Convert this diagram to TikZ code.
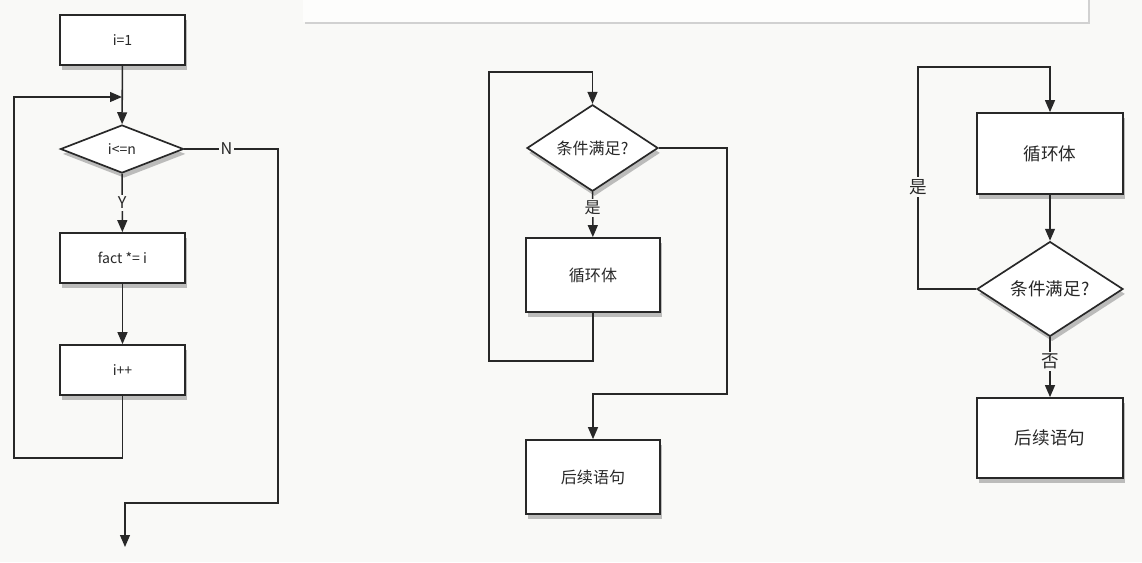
\documentclass[tikz,border=0pt]{standalone}
\usepackage{fontspec}
\setmainfont{Noto Sans CJK SC}
\usetikzlibrary{shapes.geometric,arrows.meta,shadows}
\definecolor{bg}{RGB}{249,249,247}
\definecolor{ink}{RGB}{40,40,40}
\tikzset{
  box/.style={draw=ink,line width=1.2pt,fill=white,text=ink,
    drop shadow={shadow xshift=1.5pt,shadow yshift=-3.5pt,opacity=0.5}},
  cond/.style={diamond,draw=ink,line width=1.2pt,fill=white,text=ink,inner sep=0pt,
    drop shadow={shadow xshift=1.5pt,shadow yshift=-3.5pt,opacity=0.5}},
  flow/.style={draw=ink,line width=1.1pt,-{Triangle[length=8.5pt,width=7pt]}},
  lbl/.style={fill=bg,text=ink,inner sep=1.5pt}
}
\begin{document}
\begin{tikzpicture}[x=0.025cm,y=-0.025cm]
  \useasboundingbox (0,0) rectangle (1142,562);
  \fill[bg] (0,0) rectangle (1142,562);
  \fill[black!18] (304.5,0) rectangle (1089.5,23.5);
  \fill[white!60!bg] (303,0) rectangle (1088,22);

  \node[box,minimum width=3.125cm,minimum height=1.25cm,font=\fontsize{10}{11}\selectfont] (init) at (122.5,40) {i=1};
  \node[cond,minimum width=3.075cm,minimum height=1.2cm,font=\fontsize{10}{11}\selectfont] (test) at (122,149) {i<=n};
  \node[box,minimum width=3.125cm,minimum height=1.25cm,font=\fontsize{10}{11}\selectfont] (fact) at (122.5,258) {fact *= i};
  \node[box,minimum width=3.125cm,minimum height=1.25cm,font=\fontsize{10}{11}\selectfont] (inc) at (122.5,370) {i++};
  \coordinate (merge) at (122,97);
  \coordinate (loopL) at (14,458);
  \coordinate (exitR) at (278,503);
  \coordinate (endL) at (125,547);
  \draw[flow] (init) -- (test);
  \draw[flow] (test) -- node[lbl,font=\fontsize{11.5}{12}\selectfont]{Y} (fact);
  \draw[flow] (fact) -- (inc);
  \draw[flow] (inc.south) |- (loopL) |- (merge);
  \draw[flow] (test.east) -- node[lbl,pos=0.45,font=\fontsize{11.5}{12}\selectfont]{N} (exitR |- test.east) -- (exitR) -| (endL);

  \node[cond,minimum width=3.275cm,minimum height=1.825cm,font=\fontsize{11.4}{12}\selectfont] (cond2) at (592.5,148) {条件满足?};
  \node[box,minimum width=3.35cm,minimum height=1.85cm,font=\fontsize{11.4}{12}\selectfont] (body2) at (593,275) {循环体};
  \node[box,minimum width=3.35cm,minimum height=1.85cm,font=\fontsize{11.4}{12}\selectfont] (next2) at (593,477) {后续语句};
  \coordinate (top2) at (489,72);
  \coordinate (bot2) at (489,361);
  \coordinate (right2) at (727,394);
  \draw[flow] (cond2) -- node[lbl,pos=0.35,font=\fontsize{11.4}{12}\selectfont]{是} (body2);
  \draw[flow] (body2.south) |- (bot2) -- (top2) -| (cond2.north);
  \draw[flow] (cond2.east) -| (right2) -| (next2.north);

  \node[box,minimum width=3.65cm,minimum height=2.025cm,font=\fontsize{12.5}{13}\selectfont] (body3) at (1050,153.5) {循环体};
  \node[cond,minimum width=3.65cm,minimum height=2cm,font=\fontsize{12.5}{13}\selectfont] (cond3) at (1050,289) {条件满足?};
  \node[box,minimum width=3.65cm,minimum height=2cm,font=\fontsize{12.5}{13}\selectfont] (next3) at (1050,438) {后续语句};
  \coordinate (top3) at (918,67);
  \draw[flow] (body3) -- (cond3);
  \draw[flow] (cond3) -- node[lbl,pos=0.4,font=\fontsize{12.5}{13}\selectfont]{否} (next3);
  \draw[flow] (cond3.west) -| node[lbl,pos=0.73,font=\fontsize{12.5}{13}\selectfont]{是} (top3) -| (body3.north);
\end{tikzpicture}
\end{document}
